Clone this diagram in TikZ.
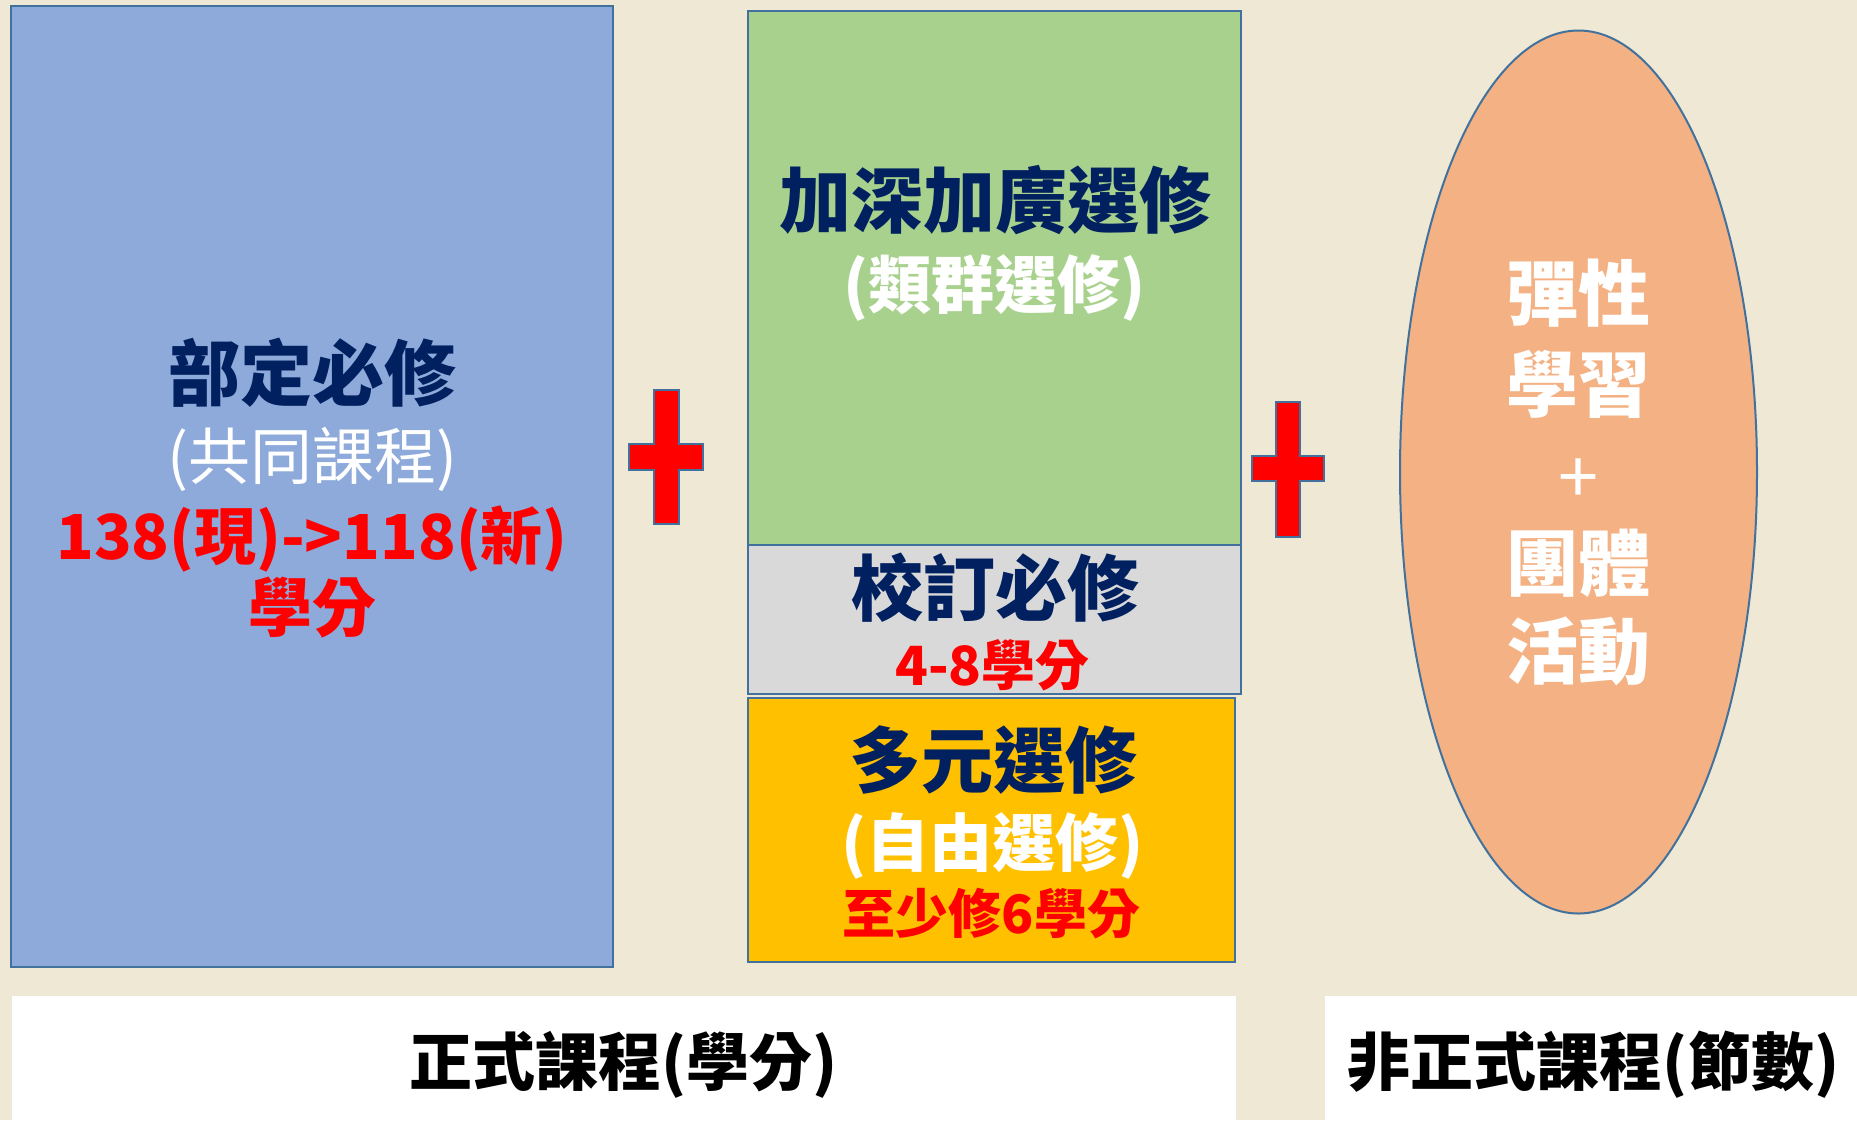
\documentclass[tikz,border=0pt]{standalone}
\usepackage{fontspec}
\setmainfont{Noto Sans CJK TC}
\usetikzlibrary{shapes.geometric}
\definecolor{bgc}{HTML}{EFE8D4}
\definecolor{edge}{HTML}{41719C}
\definecolor{blu}{HTML}{8EAADB}
\definecolor{grn}{HTML}{A9D18E}
\definecolor{gry}{HTML}{D9D9D9}
\definecolor{yel}{HTML}{FFC000}
\definecolor{org}{HTML}{F4B183}
\definecolor{navy}{HTML}{002060}
\definecolor{redc}{HTML}{FF0000}
\tikzset{
  box/.style={draw=edge, line width=2pt, rectangle, inner sep=0pt},
  wbox/.style={fill=white, rectangle, inner sep=0pt},
  lbl/.style={inner sep=0pt, text height=#1*0.88pt, text depth=#1*0.12pt, font=\fontsize{#1}{#1}\selectfont},
  ttl/.style={lbl=72, text=navy, font=\fontsize{72}{72}\selectfont\bfseries},
  crossc/.style={fill=redc, draw=edge, line width=2pt}
}
\begin{document}
\begin{tikzpicture}[x=1pt, y=-1pt]
\useasboundingbox (0,0) rectangle (1857,1120);
\fill[bgc] (0,0) rectangle (1857,1120);
% boxes
\node[box, fill=blu, minimum width=602, minimum height=961] (req) at (312,486.5) {};
\node[box, fill=grn, minimum width=493, minimum height=534] (deep) at (994.5,278) {};
\node[box, fill=gry, minimum width=493, minimum height=149] (school) at (994.5,619.5) {};
\node[box, fill=yel, minimum width=487, minimum height=264] (multi) at (991.5,830) {};
\node[ellipse, draw=edge, line width=2pt, fill=org, inner sep=0pt, minimum width=357, minimum height=883] (flex) at (1578.5,472) {};
\node[wbox, minimum width=1224, minimum height=124] (formal) at (624,1058) {};
\node[wbox, minimum width=532, minimum height=124] (informal) at (1591,1058) {};
% crosses
\draw[crossc] (653.5,390) -- (678.5,390) -- (678.5,444) -- (703,444) -- (703,470) -- (678.5,470) -- (678.5,524) -- (653.5,524) -- (653.5,470) -- (629,470) -- (629,444) -- (653.5,444) -- cycle;
\draw[crossc] (1276,402) -- (1300,402) -- (1300,456) -- (1324,456) -- (1324,481) -- (1300,481) -- (1300,537) -- (1276,537) -- (1276,481) -- (1252,481) -- (1252,456) -- (1276,456) -- cycle;
% blue box text
\node[ttl] (t1) at (312.5,373) {部定必修};
\node[lbl=62, text=white] (t2) at (312.5,456) {(共同課程)};
\node[lbl=62, text=redc, font=\fontsize{62}{62}\selectfont\bfseries] (t3) at (312,536) {138(現)->118(新)};
\node[lbl=64, text=redc, font=\fontsize{64}{64}\selectfont\bfseries] (t4) at (312,607) {學分};
% green
\node[ttl] (t5) at (995,200) {加深加廣選修};
\node[lbl=63, text=white, font=\fontsize{63}{63}\selectfont\bfseries] (t6) at (994.5,285) {(類群選修)};
% gray
\node[ttl] (t7) at (995,588) {校訂必修};
\node[lbl=54, text=redc, font=\fontsize{54}{54}\selectfont\bfseries] (t8) at (992.5,665) {4-8學分};
% yellow
\node[ttl] (t9) at (993,760) {多元選修};
\node[lbl=63, text=white, font=\fontsize{63}{63}\selectfont\bfseries] (t10) at (992.5,843) {(自由選修)};
\node[lbl=53, text=redc, font=\fontsize{53}{53}\selectfont\bfseries] (t11) at (991.5,913) {至少修6學分};
% ellipse
\node[lbl=72, text=white, font=\fontsize{72}{72}\selectfont\bfseries] (e1) at (1578.5,293) {彈性};
\node[lbl=72, text=white, font=\fontsize{72}{72}\selectfont\bfseries] (e2) at (1578.5,384) {學習};
\node[lbl=72, text=white, font=\fontsize{72}{72}\selectfont] (e3) at (1578.5,476) {+};
\node[lbl=72, text=white, font=\fontsize{72}{72}\selectfont\bfseries] (e4) at (1578.5,563) {團體};
\node[lbl=72, text=white, font=\fontsize{72}{72}\selectfont\bfseries] (e5) at (1578.5,651) {活動};
% bottom
\node[lbl=63, text=black, font=\fontsize{63}{63}\selectfont\bfseries] (b1) at (623.5,1062) {正式課程(學分)};
\node[lbl=63, text=black, font=\fontsize{63}{63}\selectfont\bfseries] (b2) at (1593.5,1062) {非正式課程(節數)};
\end{tikzpicture}
\end{document}
